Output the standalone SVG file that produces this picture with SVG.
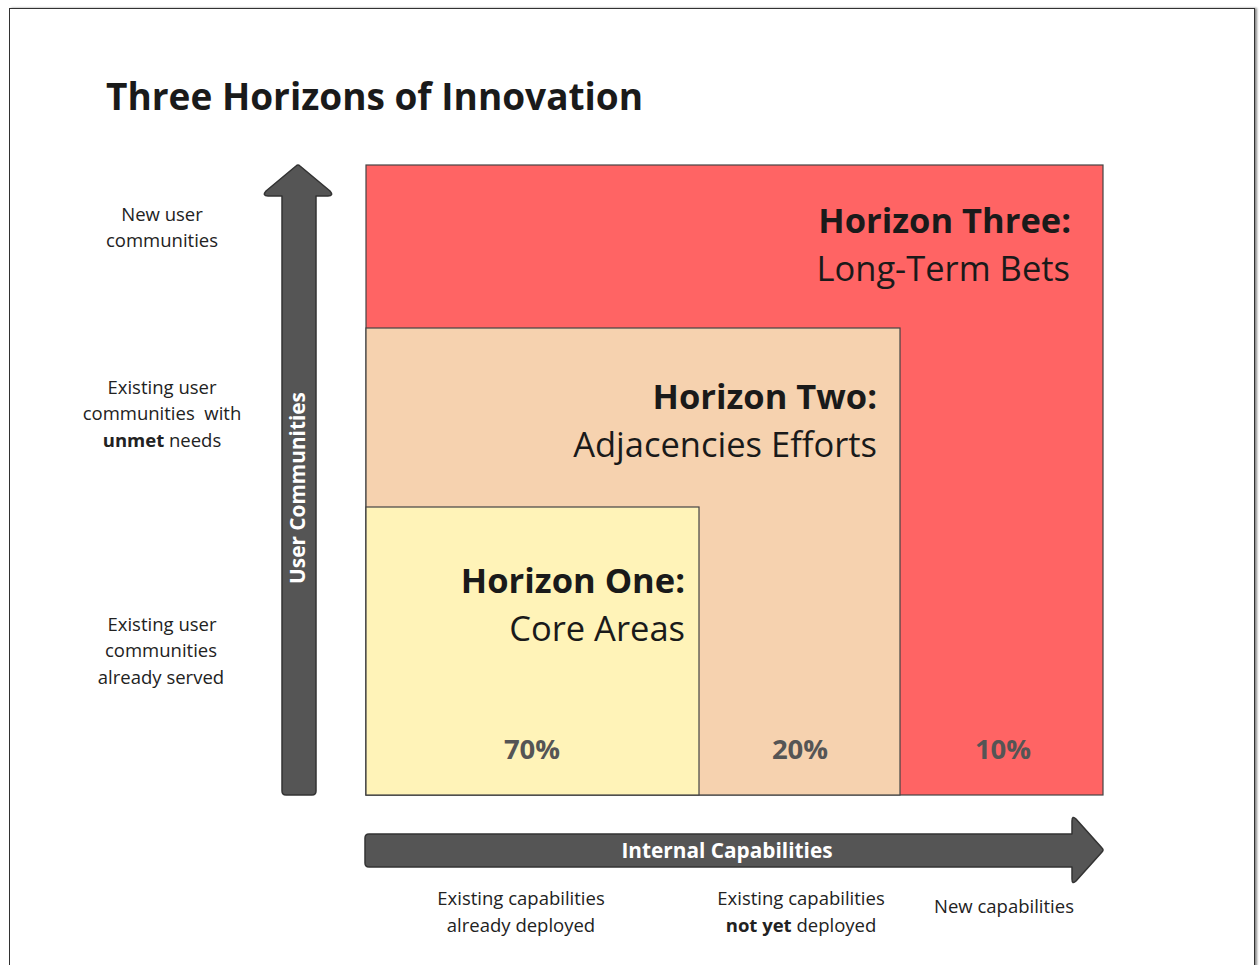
<svg xmlns="http://www.w3.org/2000/svg" width="1259" height="965" viewBox="0 0 1259 965">
  <defs>
    <style>
      text { font-family: "Open Sans", "Noto Sans", "Liberation Sans", sans-serif; fill: #1a1a1a; }
      .title { font-size: 37px; font-weight: 700; }
      .side { font-size: 18.5px; text-anchor: middle; fill: #222; }
      .hb { font-size: 34.5px; font-weight: 700; text-anchor: end; }
      .hr { font-size: 34.5px; font-weight: 400; text-anchor: end; }
      .pct { font-size: 27.5px; font-weight: 700; text-anchor: middle; fill: #555; }
      .axis { font-size: 20.8px; font-weight: 700; fill: #fff; text-anchor: middle; }
      .zone { stroke: #444; stroke-width: 1.2; }
      .arrow { fill: #555555; stroke: #333; stroke-width: 1.5; stroke-linejoin: round; }
    </style>
    <filter id="shadow" x="-5%" y="-5%" width="110%" height="110%">
      <feDropShadow dx="2" dy="0" stdDeviation="1.2" flood-color="#000" flood-opacity="0.45"/>
    </filter>
  </defs>

  <rect x="0" y="0" width="1259" height="965" fill="#fff"/>
  <!-- page frame -->
  <rect x="9.5" y="8.5" width="1245" height="980" fill="#fff" stroke="#333" stroke-width="1" filter="url(#shadow)"/>

  <text class="title" x="106" y="110">Three Horizons of Innovation</text>

  <!-- horizon zones -->
  <g id="horizon-three">
    <rect class="zone" x="366" y="165" width="737" height="630" fill="#FF6464"/>
    <text class="hb" x="1071" y="233">Horizon Three:</text>
    <text class="hr" x="1070" y="281">Long-Term Bets</text>
    <text class="pct" x="1003" y="759">10%</text>
  </g>
  <g id="horizon-two">
    <rect class="zone" x="366" y="328" width="534" height="467" fill="#F6D2AF"/>
    <text class="hb" x="877" y="409">Horizon Two:</text>
    <text class="hr" x="877" y="457">Adjacencies Efforts</text>
    <text class="pct" x="800" y="759">20%</text>
  </g>
  <g id="horizon-one">
    <rect class="zone" x="366" y="507" width="333" height="288" fill="#FFF3B8"/>
    <text class="hb" x="685" y="593">Horizon One:</text>
    <text class="hr" x="685" y="641">Core Areas</text>
    <text class="pct" x="532" y="759">70%</text>
  </g>

  <!-- axes -->
  <g id="connectors">
    <g id="axis-user">
      <path class="arrow" d="M282,196 L268,196 Q262,196 266,191 L296,166 Q298,164 300,166 L330,191 Q334,196 328,196 L316,196 L316,791 Q316,795 312,795 L286,795 Q282,795 282,791 Z"/>
      <text class="axis" transform="translate(305,488) rotate(-90)">User Communities</text>
    </g>
    <g id="axis-capabilities">
      <path class="arrow" d="M369,834 L1072,834 L1072,821 Q1072,815 1076,819 L1102,848 Q1104,850 1102,852 L1076,881 Q1072,885 1072,879 L1072,867 L369,867 Q365,867 365,863 L365,838 Q365,834 369,834 Z"/>
      <text class="axis" x="727" y="858">Internal Capabilities</text>
    </g>
  </g>

  <!-- user community levels -->
  <g id="label-new-users">
    <text class="side" x="162" y="221">New user</text>
    <text class="side" x="162" y="247">communities</text>
  </g>
  <g id="label-unmet-needs">
    <text class="side" x="162" y="394">Existing user</text>
    <text class="side" x="162" y="420" xml:space="preserve">communities  with</text>
    <text class="side" x="162" y="447"><tspan font-weight="700">unmet</tspan> needs</text>
  </g>
  <g id="label-served">
    <text class="side" x="162" y="631">Existing user</text>
    <text class="side" x="161" y="657">communities</text>
    <text class="side" x="161" y="684">already served</text>
  </g>

  <!-- capability levels -->
  <g id="label-deployed">
    <text class="side" x="521" y="905">Existing capabilities</text>
    <text class="side" x="521" y="932">already deployed</text>
  </g>
  <g id="label-not-deployed">
    <text class="side" x="801" y="905">Existing capabilities</text>
    <text class="side" x="801" y="932"><tspan font-weight="700">not yet</tspan> deployed</text>
  </g>
  <g id="label-new-capabilities">
    <text class="side" x="1004" y="913">New capabilities</text>
  </g>
</svg>
